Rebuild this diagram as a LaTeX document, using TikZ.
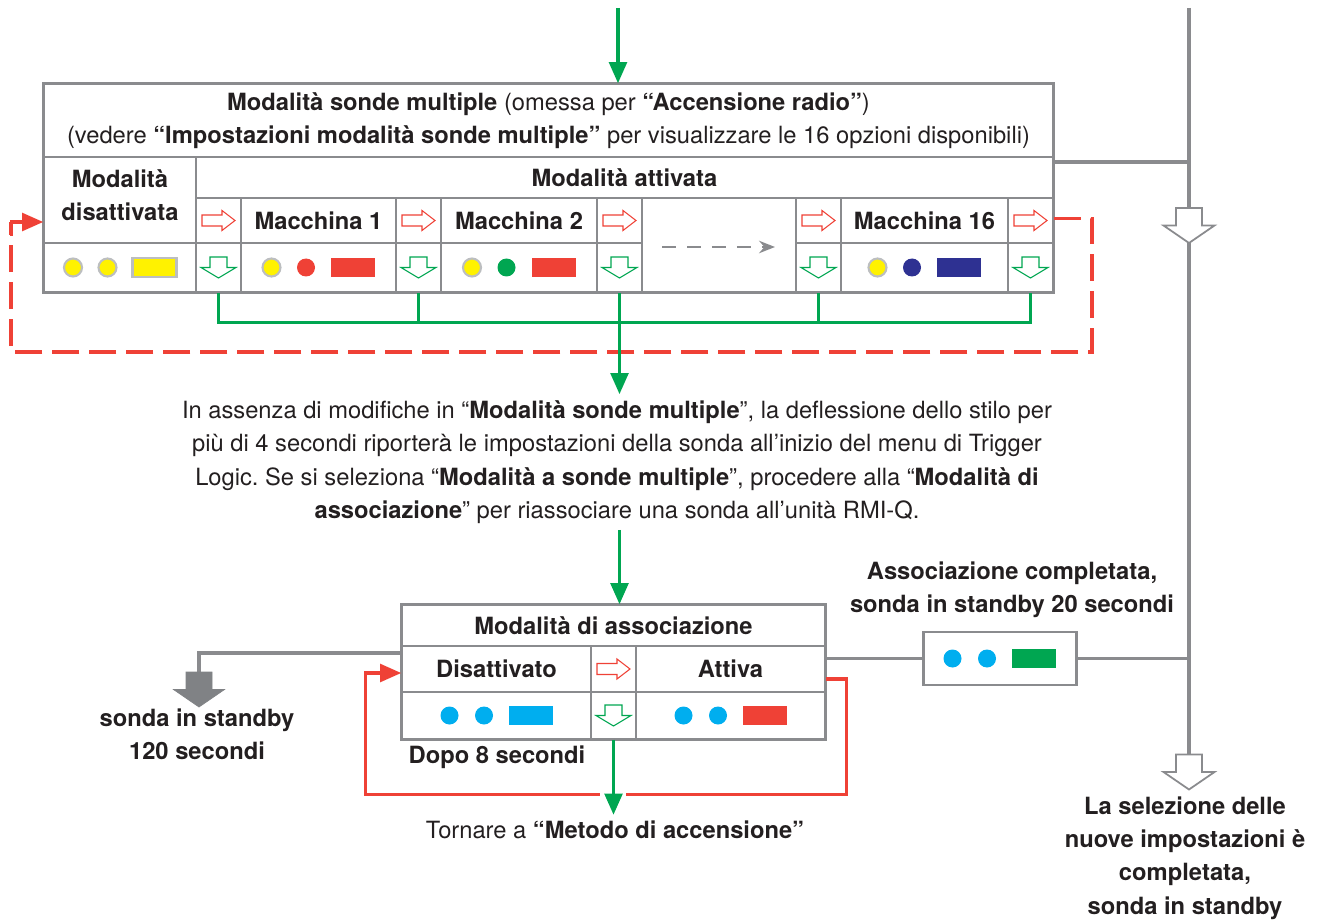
\documentclass[tikz,border=0pt]{standalone}
\usepackage{fontspec}
\setmainfont{TeX Gyre Heros}
\frenchspacing
\usetikzlibrary{arrows.meta,positioning,calc}
\definecolor{txt}{RGB}{35,31,32}
\definecolor{frm}{RGB}{138,139,142}
\definecolor{lgr}{RGB}{188,190,192}
\definecolor{grn}{RGB}{0,166,81}
\definecolor{rd}{RGB}{239,65,54}
\definecolor{ylw}{RGB}{255,242,0}
\definecolor{cyn}{RGB}{0,174,239}
\definecolor{nvy}{RGB}{46,49,146}
\definecolor{dgr}{RGB}{128,130,133}
\newcommand{\px}{0.02cm}
\newcommand{\fnt}{\fontsize{13.5}{19}\selectfont}
\newcommand{\leds}[4]{%
  \path[#2] ($(#1)+(-47,0)$) circle (9);
  \path[#3] ($(#1)+(-12.5,0)$) circle (9);
  \path[#4] ($(#1)+(12.5,-9.5)$) rectangle ($(#1)+(56.5,9.5)$);
}
\tikzset{
  cell/.style 2 args={draw=frm, line width=0.8pt, inner sep=0pt,
    minimum width=#1*\px, minimum height=#2*\px},
  bold/.style={font=\fnt\bfseries},
  frame/.style={draw=frm, line width=1.7pt},
  gline/.style={grn, line width=2pt},
  garrow/.style={gline, -{Triangle[width=10pt,length=12pt]}},
  rloop/.style={rd, line width=2.2pt, dash pattern=on 0.54cm off 0.2cm},
  rwire/.style={rd, line width=2pt},
  rsolid/.style={rwire, -{Triangle[width=10pt,length=12pt]}},
  rail/.style={frm, line width=2.2pt},
  gwire/.style={frm, line width=1.8pt},
  yled/.style={fill=ylw, draw=lgr, line width=1.2pt},
  rled/.style={fill=rd},
  gled/.style={fill=grn},
  bled/.style={fill=nvy},
  cled/.style={fill=cyn},
  rarr/.pic={\draw[pic actions, line width=0.6pt, fill=white] (-16.5,-5.5) -- (3.5,-5.5) -- (3.5,-10)
    -- (16.5,0) -- (3.5,10) -- (3.5,5.5) -- (-16.5,5.5) -- cycle;},
  dnarr/.pic={\draw[pic actions, line width=0.6pt, fill=white] (-8.5,-10.5) -- (8.5,-10.5) -- (8.5,0)
    -- (17.5,0) -- (0,10.5) -- (-17.5,0) -- (-8.5,0) -- cycle;},
  bigarr/.pic={\draw[pic actions] (-13,-17.5) -- (13,-17.5) -- (13,0)
    -- (25.5,0) -- (0,17.5) -- (-25.5,0) -- (-13,0) -- cycle;}
}
\begin{document}
\begin{tikzpicture}[x=\px, y=-\px, text=txt, font=\fnt]
\useasboundingbox (0,0) rectangle (1322,922);

% multi probe box
\node[cell={1009}{73}, align=center] (hdr) at (548.5,120.5)
  {\textbf{Modalità sonde multiple} (omessa per \textbf{“Accensione radio”})\\
   (vedere \textbf{“Impostazioni modalità sonde multiple”} per visualizzare le 16 opzioni disponibili)};
\node[cell={152}{86}] (dis) at (120,200) {};
\node[align=center, bold] (dislbl) at (120,195) {Modalità\\disattivata};
\node[cell={152}{49}] (ldis) at (120,267.5) {};
\node[cell={857}{41}, bold] (att) at (624.5,177.5) {Modalità attivata};
\foreach [count=\i] \x in {218.5,418.5,619.5,818.5,1030.5}{
  \node[cell={45}{45}] (ar\i) at (\x,220.5) {};
  \node[cell={45}{49}] (ad\i) at (\x,267.5) {};
  \pic[draw=rd] at (ar\i) {rarr};
  \pic[draw=grn] at (ad\i) {dnarr};
}
\foreach \n/\x/\w/\t in {m1/318.5/155/Macchina 1, m2/519/156/Macchina 2, m16/924.5/167/Macchina 16}{
  \node[cell={\w}{45}, bold] (\n) at (\x,220.5) {\t};
  \node[cell={\w}{49}] (l\n) at (\x,267.5) {};
}
\node[cell={154}{94}] (dots) at (719,245) {};
\draw[frm, line width=1.6pt, dash pattern=on 0.28cm off 0.22cm, -{Stealth[length=9pt,width=7pt]}]
  ($(dots.center)+(-57,2)$) -- ($(dots.center)+(56,2)$);
\leds{ldis}{yled}{yled}{yled}
\leds{lm1}{yled}{rled}{rled}
\leds{lm2}{yled}{gled}{rled}
\leds{lm16}{yled}{bled}{bled}
\draw[frame] (hdr.north west) rectangle (ad5.south east);

% entry and collector
\coordinate (entry) at (618,8);
\draw[garrow] (entry) -- (entry |- hdr.north);
\coordinate (join) at ($(ad3.south)+(0,30)$);
\draw[gline] (ad1.south) -- (ad1.south |- join) -- (ad5.south |- join) -- (ad5.south);
\foreach \i in {2,3,4}
  \draw[gline] (ad\i.south) -- (ad\i.south |- join);

% dashed loop back
\draw[rloop] ($(ar5.east)+(0,-2)$) -- ++(38,0) |- ($(dis.west)+(-32,152)$) -- ($(dis.west)+(-32,22)$);
\draw[rsolid] ($(dis.west)+(-32,36)$) |- ($(dis.west)+(0,22)$);

\node[align=center] (note) at (617,462)
  {In assenza di modifiche in “\textbf{Modalità sonde multiple}”, la deflessione dello stilo per\\
   più di 4 secondi riporterà le impostazioni della sonda all’inizio del menu di Trigger\\
   Logic. Se si seleziona “\textbf{Modalità a sonde multiple}”, procedere alla “\textbf{Modalità di}\\
   \textbf{associazione}” per riassociare una sonda all’unità RMI-Q.};
\draw[garrow] (join) -- (join |- note.north);

% pairing box
\node[cell={423}{41}, bold] (asc) at (613.5,625.5) {Modalità di associazione};
\node[cell={189}{46}, bold] (off) at (496.5,669) {Disattivato};
\node[cell={45}{46}] (aro) at (613.5,669) {};
\node[cell={189}{46}, bold] (on) at (730.5,669) {Attiva};
\node[cell={189}{47}] (loff) at (496.5,715.5) {};
\node[cell={45}{47}] (ado) at (613.5,715.5) {};
\node[cell={189}{47}] (lon) at (730.5,715.5) {};
\pic[draw=rd] at (aro) {rarr};
\pic[draw=grn] at (ado) {dnarr};
\leds{loff}{cled}{cled}{cled}
\leds{lon}{cled}{cled}{rled}
\draw[frame] (asc.north west) rectangle (lon.south east);
\draw[garrow] (join |- note.south) -- (join |- asc.north);

\node[bold] (after) at (497,757) {Dopo 8 secondi};
\draw[rwire] ($(on.east)+(0,10)$) -- ++(21,0) |- ($(ado.south)+(12,55)$);
\draw[rsolid] ($(ado.south)+(-14,55)$) -| ($(off.west)+(-36,4)$) -- ($(off.west)+(0,4)$);
\node (back) at (615,830) {Tornare a \textbf{“Metodo di accensione”}};
\draw[garrow] (ado.south) -- (ado.south |- back.north);

% standby 120 s
\coordinate (drop) at (199,689.5);
\draw[gwire] ($(off.west)+(0,-16)$) -| ($(drop)+(0,-17.5)$);
\pic[draw=dgr, fill=dgr] at (drop) {bigarr};
\node[align=center, bold] (sby) at (197,734.5) {sonda in standby\\120 secondi};

% pairing done
\node[cell={153}{53}, frame] (done) at (999.5,658.5) {};
\leds{done}{cled}{cled}{gled}
\node[align=center, bold] (donetxt) at (1012,589.5) {Associazione completata,\\sonda in standby 20 secondi};

% right rail
\coordinate (railtop) at (1189,8);
\coordinate (railbot) at (1189,755);
\coordinate (tap) at (1189,162);
\draw[rail] (railtop) -- (railbot);
\draw[rail] (hdr.east |- tap) -- (tap);
\draw[gwire] (on.east |- done) -- (done.west);
\draw[gwire] (done.east) -- (done.east -| railbot);
\pic[draw=frm, fill=white, line width=1pt] at (1189,225.5) {bigarr};
\pic[draw=frm, fill=white, line width=1pt] at (1189,772) {bigarr};
\node[align=center, bold] (fin) at (1185,858)
  {La selezione delle\\nuove impostazioni è\\completata,\\sonda in standby};
\end{tikzpicture}
\end{document}
